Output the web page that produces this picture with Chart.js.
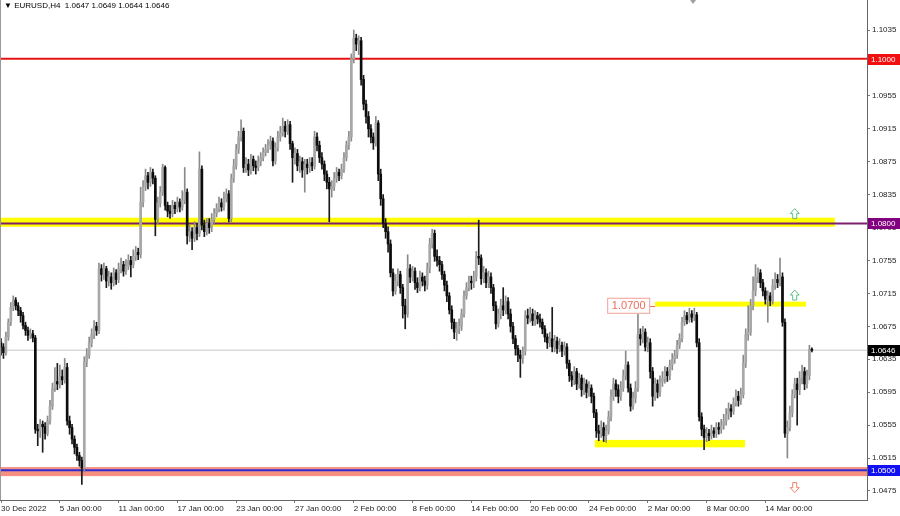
<!DOCTYPE html>
<html>
<head>
<meta charset="utf-8">
<title>EURUSD,H4</title>
<script src="https://cdn.jsdelivr.net/npm/chart.js@4.4.1/dist/chart.umd.min.js"></script>
<style>
  html, body { margin: 0; padding: 0; background: #fff; }
  #wrap { width: 900px; height: 516px; }
</style>
</head>
<body>
<div id="wrap"><canvas id="chart" width="900" height="516"></canvas></div>
<script>
// EURUSD H4 candles, prices kept in pips above 1.0000 (650 -> 1.0650)
const symbol = 'EURUSD,H4';
const firstOpen = 655;
const closePips = [
  650,643,662,680,698,707,700,694,688,676, 670,664,666,661,550,548,556,553,545,560,
  578,600,608,605,614,610,625,560,552,538, 528,518,512,503,632,640,655,665,675,670,
  745,738,745,730,735,728,740,732,745,750, 742,748,755,750,760,765,762,826,845,858,
  850,862,855,805,825,838,868,822,815,812, 822,818,826,820,828,838,785,790,782,795,
  788,866,798,790,800,795,805,812,818,825, 820,830,836,806,855,870,890,905,912,868,
  872,865,878,870,868,875,880,886,890,895, 900,876,892,905,910,918,912,920,897,880,
  885,870,875,865,872,868,874,870,905,895, 880,872,860,850,842,845,855,862,858,866,
  880,895,905,1000,1025,1018,1022,975,945,930, 915,905,898,922,860,830,800,790,775,740,
  718,730,738,722,700,690,745,735,742,728, 722,735,730,725,745,775,788,760,755,750,
  738,725,712,695,680,668,672,675,690,712, 722,730,728,735,760,758,733,740,728,735,
  722,700,678,690,700,695,705,690,675,660, 648,640,636,645,688,685,690,682,688,684,
  680,672,662,655,660,650,657,648,652,645, 650,630,615,610,620,605,612,598,605,595,
  600,590,570,548,545,552,542,548,565,590, 605,598,590,600,615,628,600,578,588,600,
  665,660,668,650,655,620,590,605,595,608, 612,620,615,628,635,640,652,660,680,688,
  683,690,686,689,655,565,550,540,545,542, 548,545,552,550,555,560,568,575,572,582,
  590,585,592,630,665,668,700,718,735,740, 728,718,708,712,706,725,732,728,735,680,
  545,552,570,592,605,598,612,620,605,615, 647,646
];
const highPips = [
  660,654,668,684,704,712,710,704,698,692, 680,674,672,670,664,556,562,560,558,566,
  585,606,625,630,628,622,636,630,566,556, 542,532,522,516,638,648,662,672,682,680,
  752,750,752,748,742,740,746,744,752,758, 754,756,762,760,768,772,770,844,852,866,
  862,868,866,858,832,845,872,870,826,822, 828,826,832,830,840,868,842,798,795,802,
  800,887,870,804,806,806,812,818,824,832, 830,838,842,840,860,878,896,912,926,916,
  880,878,884,882,876,882,886,892,896,902, 906,904,898,912,918,928,924,926,924,900,
  892,890,882,880,878,878,880,880,912,910, 900,886,876,864,856,852,862,868,866,872,
  886,900,912,1006,1035,1030,1028,1026,980,950, 936,920,910,930,925,866,835,806,796,780,
  745,738,745,742,726,708,762,750,748,746, 734,742,740,736,752,782,793,792,768,760,
  754,742,730,716,700,684,680,684,696,718, 728,736,736,742,766,804,762,748,745,742,
  740,726,705,696,708,722,712,710,696,680, 664,652,646,650,694,696,698,696,694,692,
  690,684,676,666,668,698,664,662,660,656, 656,654,634,620,626,624,618,616,612,610,
  608,604,594,574,555,560,558,555,572,598, 612,610,604,608,622,645,632,605,595,608,
  690,672,675,672,662,660,625,612,610,615, 620,626,625,634,642,646,658,666,686,694,
  692,697,694,697,692,660,570,555,552,550, 555,552,558,558,562,568,575,582,580,588,
  598,596,600,640,672,700,708,735,750,746, 744,732,722,718,716,732,740,738,758,740,
  684,560,578,598,612,612,620,628,625,622, 652,649
];
const lowPips = [
  640,636,640,658,676,694,695,688,680,672, 664,658,660,656,545,530,540,522,538,542,
  556,574,596,598,600,604,606,555,544,532, 520,512,505,483,498,626,636,650,660,664,
  666,730,732,722,724,720,724,726,728,740, 736,738,744,735,746,755,756,758,820,840,
  842,845,848,785,800,820,834,816,808,806, 808,812,814,814,816,824,775,778,768,778,
  780,784,792,784,786,788,790,800,808,814, 815,816,826,802,802,850,866,885,900,862,
  862,858,860,864,860,864,870,876,882,886, 890,870,872,888,900,906,905,908,890,850,
  872,864,862,856,838,860,862,864,866,888, 874,866,852,842,802,832,840,850,852,854,
  862,876,890,900,995,1010,1005,968,938,922, 905,898,890,894,852,822,795,782,765,735,
  712,714,724,715,685,672,686,728,730,720, 716,718,724,718,720,740,770,754,748,742,
  732,718,705,690,672,660,658,666,670,686, 708,718,720,722,730,750,726,728,722,722,
  715,694,672,674,684,688,690,684,668,654, 640,632,613,630,640,678,680,676,676,678,
  674,666,656,648,650,644,644,642,644,638, 640,624,608,602,604,598,600,590,592,588,
  590,582,564,540,536,540,535,534,544,560, 585,590,582,585,596,610,595,572,574,582,
  596,652,655,645,644,612,578,585,588,590, 602,606,608,610,622,630,636,648,656,676,
  678,680,680,682,650,560,542,525,535,536, 538,540,540,544,545,550,555,562,565,568,
  578,578,580,588,625,658,664,695,712,728, 722,712,702,680,700,702,720,722,724,675,
  540,515,548,565,588,555,592,605,598,600, 610,644
];

// axis ticks
const yTicks = [1.1035, 1.0995, 1.0955, 1.0915, 1.0875, 1.0835, 1.0795, 1.0755,
                1.0715, 1.0675, 1.0635, 1.0595, 1.0555, 1.0515, 1.0475];
const xTickIndex = [0, 24, 48, 72, 96, 120, 144, 168, 192, 216, 240, 264, 288, 312];
const xTickLabels = ['30 Dec 2022', '5 Jan 00:00', '11 Jan 00:00', '17 Jan 00:00', '23 Jan 00:00',
  '27 Jan 00:00', '2 Feb 00:00', '8 Feb 00:00', '14 Feb 00:00', '20 Feb 00:00',
  '24 Feb 00:00', '2 Mar 00:00', '8 Mar 00:00', '14 Mar 00:00'];

// drawn levels
const redLevel = 1.1000;
const purpleLevel = 1.0800;
const blueLevel = 1.0500;
const zone1080 = [1.0796, 1.0807];
const zone1070 = [1.0699, 1.0705];
const zone1053 = [1.0528, 1.0537];
const zone1050 = [1.0493, 1.0504];
const label1070 = 1.0700;
const upArrows = [1.0812, 1.0713];
const downArrows = [1.0479];

const toPrice = p => 1 + p / 10000;
const opens = closePips.map((c, i) => i === 0 ? firstOpen : closePips[i - 1]);
const lastPrice = toPrice(closePips[closePips.length - 1]);

const wickData = closePips.map((c, i) => ({ x: i, y: [toPrice(lowPips[i]), toPrice(highPips[i])] }));
const bodyData = closePips.map((c, i) => {
  const lo = Math.min(opens[i], c);
  const hi = Math.max(opens[i], c);
  return { x: i, y: [toPrice(lo), toPrice(hi)] };
});
const isUp = closePips.map((c, i) => c >= opens[i]);

const FONT = '"Liberation Sans", "DejaVu Sans", sans-serif';

const levelsPlugin = {
  id: 'levels',
  beforeDatasetsDraw(chart) {
    const { ctx, chartArea: a, scales: { x, y } } = chart;
    ctx.save();
    const band = (range, from, to, color) => {
      const x0 = from == null ? a.left : x.getPixelForValue(from);
      const x1 = to == null ? a.right : x.getPixelForValue(to);
      const y0 = y.getPixelForValue(range[1]);
      const y1 = y.getPixelForValue(range[0]);
      ctx.fillStyle = color;
      ctx.fillRect(x0, y0, x1 - x0, y1 - y0);
    };
    const hline = (price, color, width) => {
      const py = y.getPixelForValue(price);
      ctx.strokeStyle = color;
      ctx.lineWidth = width;
      ctx.beginPath();
      ctx.moveTo(a.left, py);
      ctx.lineTo(a.right, py);
      ctx.stroke();
    };
    band(zone1050, null, null, '#f7907f');
    band(zone1080, null, 340.4, '#ffff00');
    band(zone1070, 267, 328.6, '#ffff00');
    band(zone1053, 242.4, 303.7, '#ffff00');
    hline(lastPrice, '#c8c8c8', 1);
    hline(redLevel, '#e81414', 2);
    hline(purpleLevel, '#7d1f6e', 2);
    hline(blueLevel, '#2a2ad8', 2);
    ctx.restore();
  },
  afterDraw(chart) {
    const { ctx, chartArea: a, scales: { x, y } } = chart;
    ctx.save();
    // left frame
    ctx.strokeStyle = '#9a9a9a';
    ctx.lineWidth = 1;
    ctx.beginPath();
    ctx.moveTo(a.left + 0.5, a.top);
    ctx.lineTo(a.left + 0.5, a.bottom);
    ctx.stroke();

    // price boxes on the right axis
    const priceBox = (price, bg) => {
      const py = Math.round(y.getPixelForValue(price));
      ctx.fillStyle = bg;
      ctx.fillRect(a.right + 1, py - 5, 33, 11);
      ctx.fillStyle = '#fff';
      ctx.font = '8px ' + FONT;
      ctx.textBaseline = 'middle';
      ctx.textAlign = 'left';
      ctx.fillText(price.toFixed(4), a.right + 4, py + 0.5);
    };
    priceBox(redLevel, '#f01010');
    priceBox(purpleLevel, '#800080');
    priceBox(lastPrice, '#000000');
    priceBox(blueLevel, '#1010f0');

    // 1.0700 label
    const ly = y.getPixelForValue(label1070);
    const rx = x.getPixelForValue(265);
    ctx.font = '11px ' + FONT;
    ctx.textAlign = 'center';
    ctx.textBaseline = 'middle';
    ctx.fillStyle = '#fff';
    ctx.fillRect(rx - 43, ly - 8, 43, 16);
    ctx.strokeStyle = '#f0a096';
    ctx.strokeRect(rx - 42.5, ly - 7.5, 42, 15);
    ctx.fillStyle = '#f06a58';
    ctx.fillText(label1070.toFixed(4), rx - 21.5, ly + 0.5);
    ctx.strokeStyle = '#f06a58';
    ctx.beginPath();
    ctx.moveTo(rx, Math.round(ly) + 0.5);
    ctx.lineTo(x.getPixelForValue(267), Math.round(ly) + 0.5);
    ctx.stroke();

    // arrows
    const ax = x.getPixelForValue(324);
    const arrow = (price, dir, color) => {
      const cy = y.getPixelForValue(price);
      const s = dir;
      ctx.strokeStyle = color;
      ctx.lineWidth = 1;
      ctx.beginPath();
      ctx.moveTo(ax, cy - 5 * s);
      ctx.lineTo(ax + 4.5, cy);
      ctx.lineTo(ax + 2, cy);
      ctx.lineTo(ax + 2, cy + 5 * s);
      ctx.lineTo(ax - 2, cy + 5 * s);
      ctx.lineTo(ax - 2, cy);
      ctx.lineTo(ax - 4.5, cy);
      ctx.closePath();
      ctx.stroke();
    };
    upArrows.forEach(p => arrow(p, 1, '#5cbf86'));
    downArrows.forEach(p => arrow(p, -1, '#f07f6a'));

    // shift marker
    const mx = x.getPixelForValue(282.5);
    ctx.fillStyle = '#a0a0a0';
    ctx.beginPath();
    ctx.moveTo(mx - 3, 0);
    ctx.lineTo(mx + 3, 0);
    ctx.lineTo(mx, 4);
    ctx.closePath();
    ctx.fill();

    // header
    const n = closePips.length - 1;
    const head = [opens[n], highPips[n], lowPips[n], closePips[n]].map(v => toPrice(v).toFixed(4)).join(' ');
    ctx.font = '8px ' + FONT;
    ctx.textAlign = 'left';
    ctx.textBaseline = 'middle';
    ctx.fillStyle = '#000';
    ctx.fillText('\u25BC ' + symbol + '  ' + head, 4, 6);
    ctx.restore();
  }
};

new Chart(document.getElementById('chart'), {
  type: 'bar',
  data: {
    datasets: [
      {
        label: 'wick',
        data: wickData,
        backgroundColor: isUp.map(u => u ? '#8a8a8a' : '#1a1a1a'),
        barThickness: 1,
        grouped: false,
        borderWidth: 0,
        order: 2
      },
      {
        label: 'body',
        data: bodyData,
        backgroundColor: isUp.map(u => u ? '#a8a8a8' : '#0c0c0c'),
        barThickness: 2,
        minBarLength: 1,
        grouped: false,
        borderWidth: 0,
        order: 1
      }
    ]
  },
  options: {
    responsive: false,
    animation: false,
    layout: { padding: 0 },
    plugins: { legend: { display: false }, tooltip: { enabled: false } },
    scales: {
      x: {
        type: 'linear',
        min: -0.41,
        max: 353.5,
        offset: false,
        bounds: 'data',
        grid: { drawOnChartArea: false, offset: false, tickLength: 3, color: '#777' },
        border: { color: '#666' },
        afterBuildTicks: s => { s.ticks = xTickIndex.map(v => ({ value: v })); },
        afterFit: s => { s.height = 16; s.paddingLeft = 0; s.paddingRight = 0; },
        ticks: {
          autoSkip: false,
          maxRotation: 0,
          align: 'start',
          padding: 1,
          color: '#222',
          font: { family: FONT, size: 8 },
          callback: v => { const k = xTickIndex.indexOf(v); return k < 0 ? '' : xTickLabels[k]; }
        }
      },
      y: {
        type: 'linear',
        position: 'right',
        min: 1.04640,
        max: 1.10715,
        bounds: 'data',
        grid: { drawOnChartArea: false, tickLength: 3, color: '#777' },
        border: { color: '#666' },
        afterBuildTicks: s => { s.ticks = yTicks.map(v => ({ value: v })); },
        afterFit: s => { s.width = 33; s.paddingTop = 0; s.paddingBottom = 0; },
        ticks: {
          padding: 2,
          color: '#222',
          font: { family: FONT, size: 8 },
          callback: v => v.toFixed(4)
        }
      }
    }
  },
  plugins: [levelsPlugin]
});
</script>
</body>
</html>
